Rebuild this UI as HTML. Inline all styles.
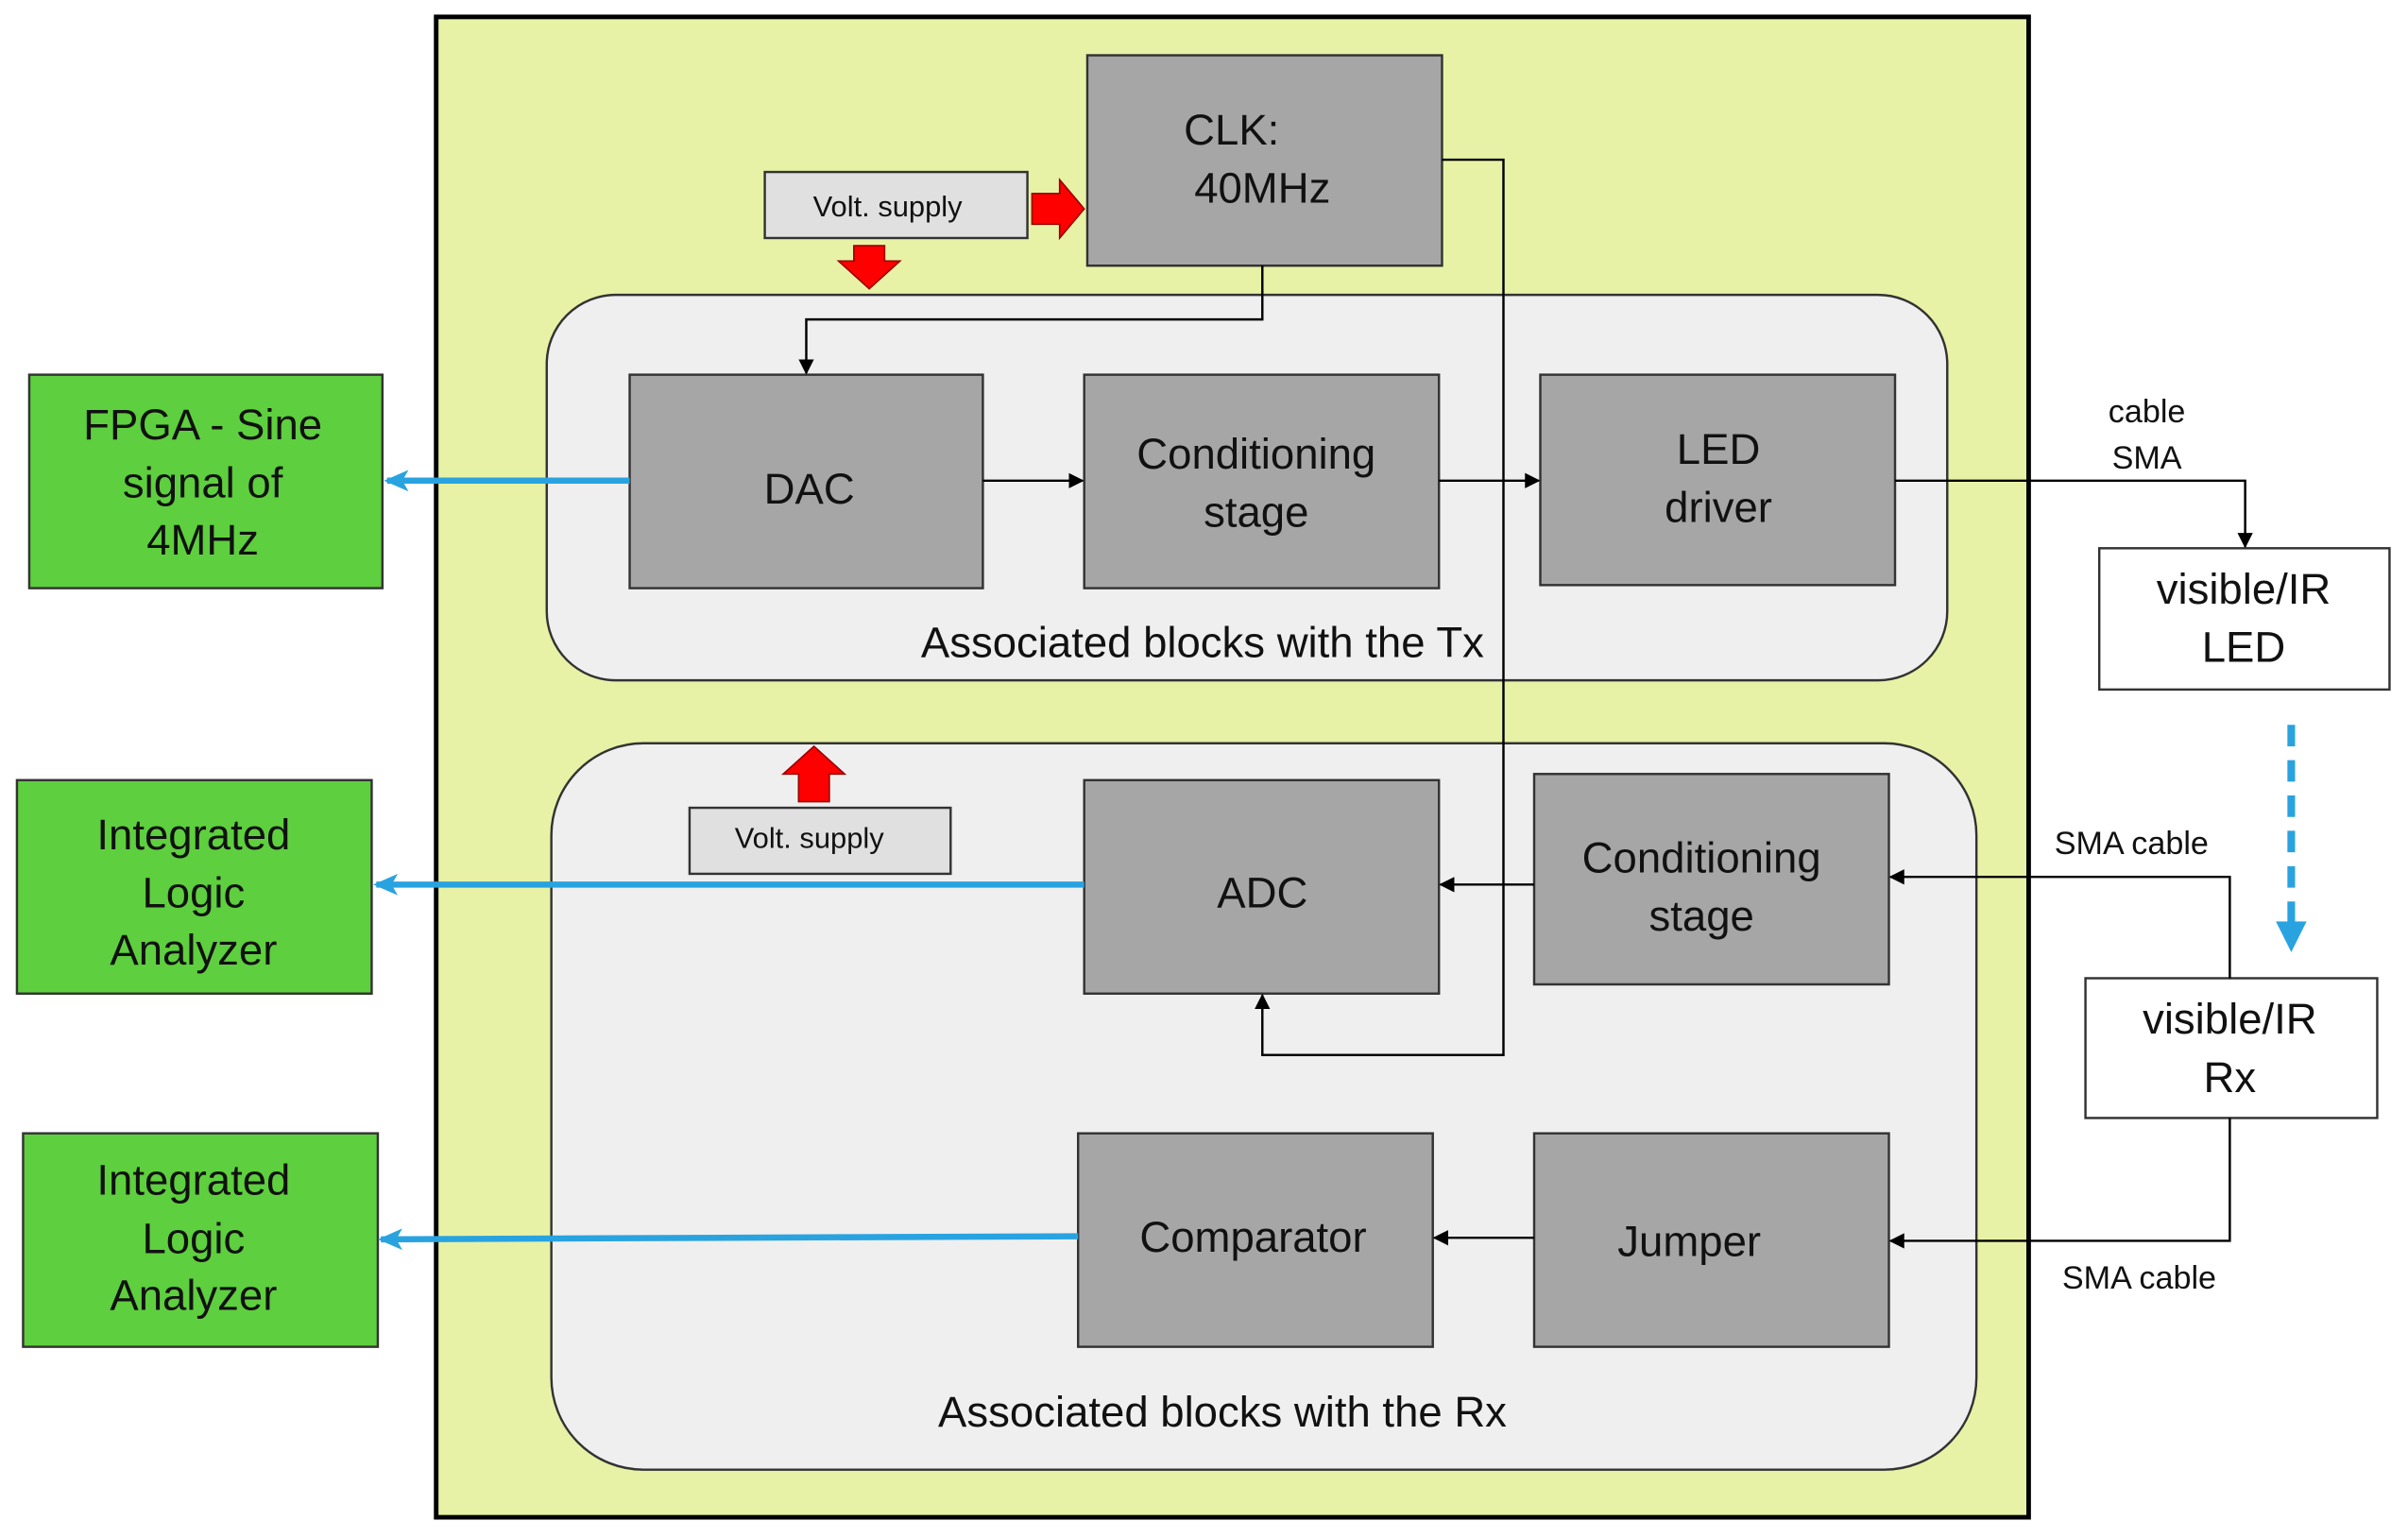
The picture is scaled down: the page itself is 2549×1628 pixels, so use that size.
<!DOCTYPE html>
<html><head><meta charset="utf-8"><style>
html,body{margin:0;padding:0;background:#fff}
svg{display:block}
text{font-family:"Liberation Sans",sans-serif;fill:#111;text-anchor:middle}
</style></head><body>
<svg width="2549" height="1628" viewBox="0 0 1568 1001.5" xmlns="http://www.w3.org/2000/svg">
<defs>
<marker id="ah" markerWidth="10" markerHeight="10" refX="9" refY="5" orient="auto" markerUnits="userSpaceOnUse"><path d="M0,0 L10,5 L0,10 z" fill="#000"/></marker>
<marker id="bh" markerWidth="16" markerHeight="14" refX="14" refY="7" orient="auto" markerUnits="userSpaceOnUse"><path d="M0,0 L16,7 L0,14 L4,7 z" fill="#29a3e0"/></marker>
</defs>
<rect x="284" y="11" width="1037" height="977" fill="#e8f2a6" stroke="#000" stroke-width="3"/>
<rect x="356" y="192" width="912" height="251" rx="45" fill="#efefef" stroke="#333" stroke-width="1.5"/>
<rect x="359" y="484" width="928" height="473" rx="60" fill="#efefef" stroke="#333" stroke-width="1.5"/>
<g fill="#a6a6a6" stroke="#333" stroke-width="1.5">
<rect x="708" y="36" width="231" height="137"/>
<rect x="410" y="244" width="230" height="139"/>
<rect x="706" y="244" width="231" height="139"/>
<rect x="1003" y="244" width="231" height="137"/>
<rect x="706" y="508" width="231" height="139"/>
<rect x="999" y="504" width="231" height="137"/>
<rect x="702" y="738" width="231" height="139"/>
<rect x="999" y="738" width="231" height="139"/>
</g>
<g fill="#5ecf3e" stroke="#333" stroke-width="1.5">
<rect x="19" y="244" width="230" height="139"/>
<rect x="11" y="508" width="231" height="139"/>
<rect x="15" y="738" width="231" height="139"/>
</g>
<g fill="#fff" stroke="#333" stroke-width="1.5">
<rect x="1367" y="357" width="189" height="92"/>
<rect x="1358" y="637" width="190" height="91"/>
</g>
<g fill="#e0e0e0" stroke="#333" stroke-width="1.5">
<rect x="498" y="112" width="171" height="43"/>
<rect x="449" y="526" width="170" height="43"/>
</g>
<g fill="#f00" stroke="#900" stroke-width="1">
<path d="M672,126 h18 v-9 l16,19 l-16,19 v-9 h-18 z"/>
<path d="M556,160 h20 v10 h10 l-20,18 l-20,-18 h10 z"/>
<path d="M520,522 h20 v-18 h10 l-20,-18 l-20,18 h10 z"/>
</g>
<g stroke="#000" stroke-width="1.5" fill="none" marker-end="url(#ah)">
<path d="M822,173 V208 H525 V243"/>
<path d="M939,104 H979 V687 H822 V648"/>
<path d="M640,313 H705"/>
<path d="M937,313 H1002"/>
<path d="M1234,313 H1462 V356"/>
<path d="M999,576 H938"/>
<path d="M999,806 H934"/>
<path d="M1452,637 V571 H1231"/>
<path d="M1452,728 V808 H1231"/>
</g>
<g stroke="#29a3e0" stroke-width="4" fill="none" marker-end="url(#bh)">
<path d="M410,313 H252"/>
<path d="M706,576 H245"/>
<path d="M702,805 L248,807"/>
</g>
<path d="M1492,472 V605" stroke="#29a3e0" stroke-width="5" stroke-dasharray="14,9" fill="none"/>
<path d="M1482,600 L1492,620 L1502,600 z" fill="#29a3e0"/>
<g font-size="28">
<text x="802" y="94">CLK:</text>
<text x="822" y="132">40MHz</text>
<text x="527" y="328">DAC</text>
<text x="818" y="305">Conditioning</text>
<text x="818" y="343">stage</text>
<text x="1119" y="302">LED</text>
<text x="1119" y="340">driver</text>
<text x="783" y="428">Associated blocks with the Tx</text>
<text x="822" y="591">ADC</text>
<text x="1108" y="568">Conditioning</text>
<text x="1108" y="606">stage</text>
<text x="816" y="815">Comparator</text>
<text x="1100" y="818">Jumper</text>
<text x="796" y="929">Associated blocks with the Rx</text>
<text x="132" y="286">FPGA - Sine</text>
<text x="132" y="324">signal of</text>
<text x="132" y="361">4MHz</text>
<text x="126" y="553">Integrated</text>
<text x="126" y="591">Logic</text>
<text x="126" y="628">Analyzer</text>
<text x="126" y="778">Integrated</text>
<text x="126" y="816">Logic</text>
<text x="126" y="853">Analyzer</text>
<text x="1461" y="393">visible/IR</text>
<text x="1461" y="431">LED</text>
<text x="1452" y="673">visible/IR</text>
<text x="1452" y="711">Rx</text>
</g>
<g font-size="19">
<text x="578" y="141">Volt. supply</text>
<text x="527" y="552">Volt. supply</text>
</g>
<g font-size="21">
<text x="1398" y="275">cable</text>
<text x="1398" y="305">SMA</text>
<text x="1388" y="556">SMA cable</text>
<text x="1393" y="839">SMA cable</text>
</g>
</svg>
</body></html>
